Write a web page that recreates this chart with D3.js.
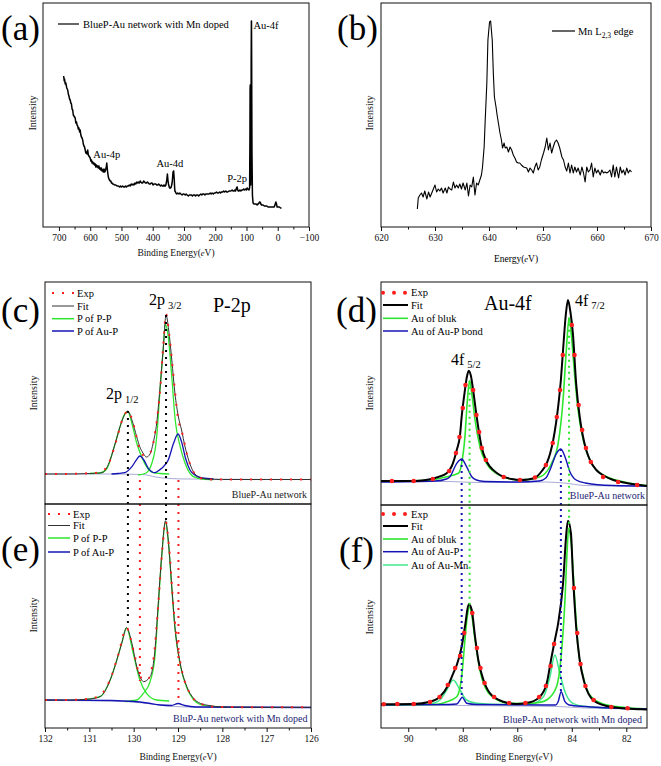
<!DOCTYPE html>
<html><head><meta charset="utf-8">
<script src="https://cdn.jsdelivr.net/npm/d3@7"></script>
<style>body{margin:0;background:#fff}svg{display:block;font-family:"Liberation Serif","Times New Roman",serif}</style>
</head><body>
<svg id="chart" width="661" height="766"></svg>
<script>
// ---------- DATA ----------
// (a) XPS survey: [binding energy eV, intensity a.u.]
const survey = [[685,151],[683,146],[682,148],[680,143],[678,144],[675,139],[672,137],[670,133],[668,131],[666,128],[664,127],[662,124],[660,123],[658,118],[656,117],[654,112],[652,111],[650,110],[648,109],[646,104],[644,105],[642,102],[640,101],[638,98],[636,99],[634,95],[632,97],[630,92],[628,90],[626,89],[624,87],[622,83],[620,81],[618,80],[616,77],[614,74],[612,75],[610,73],[608,77],[606,72],[604,71],[602,70],[600,69],[598,66],[596,67],[594,64],[592,65],[590,63],[588,64],[586,62],[584,63],[582,60],[580,62],[578,60],[576,61],[574,59],[572,61],[570,58],[568,59],[566,57],[564,59],[562,56],[560,57],[558,55],[556,58],[554,55],[552,56],[550,58],[549,59],[547,64],[545,57],[543,52],[542,50],[540,48],[538,47],[536,46],[534,46],[532,44],[530,44],[528,43],[526,43],[522,42],[518,42],[514,41],[510,41],[506,40],[503,41],[500,40],[496,41],[493,40],[490,40],[487,41],[484,40],[481,41],[478,41],[475,42],[472,41],[469,43],[466,42],[463,43],[460,42],[457,44],[454,43],[451,45],[448,44],[445,45],[443,44],[440,46],[438,45],[435,44],[432,44],[429,46],[426,45],[423,44],[420,44],[417,45],[414,44],[411,43],[408,43],[405,44],[402,44],[399,42],[396,43],[393,43],[390,43],[387,42],[384,42],[381,43],[378,42],[375,41],[372,42],[369,41],[366,41],[364,42],[362,41],[360,41],[358,42],[356,45],[355,47],[353,53],[351,46],[349,42],[348,41],[346,39],[345,39],[343,39],[341,40],[340,41],[338,44],[337,47],[335,55],[333,56],[331,47],[330,40],[329,36],[327,35],[326,34],[323,33],[320,34],[316,33],[313,34],[310,33],[306,32],[303,33],[300,33],[296,32],[293,33],[290,32],[286,31],[283,32],[280,32],[276,32],[273,31],[270,32],[266,32],[263,31],[260,32],[256,32],[253,31],[250,32],[246,33],[243,32],[240,33],[236,33],[233,32],[230,33],[226,33],[223,33],[220,33],[216,34],[213,33],[210,34],[206,33],[203,34],[200,34],[196,35],[193,34],[190,34],[186,35],[183,34],[180,35],[176,35],[173,36],[170,35],[166,36],[163,35],[160,35],[156,36],[153,36],[150,36],[146,37],[143,36],[140,36],[137,37],[135,36],[133,38],[132,39],[130,40],[128,37],[126,36],[124,36],[121,37],[118,36],[115,37],[112,37],[109,38],[106,37],[103,38],[100,37],[98,39],[96,38],[94,38],[92,37],[90,39],[89,87],[88.5,137],[88,142],[87.5,127],[86.5,42],[85.5,77],[85,167],[84.3,206],[84,206],[83.5,167],[82.5,77],[81,32],[79,24],[76,23],[74,23],[71,23],[69,23],[66,22],[64,23],[62,23],[60,24],[58,25],[57,25],[55,24],[54,23],[52,22],[50,22],[47,22],[43,21],[39,21],[35,21],[31,20],[27,20],[23,20],[20,20],[17,20],[14,20],[12,20],[10,21],[8,23],[6,25],[5,24],[4,23],[2,20],[-1,20],[-5,20],[-9,19],[-12,19]];

// (b) Mn L2,3 edge: [energy eV, intensity a.u.]
const mnEdge = [[626.73,18],[626.9,29],[627.2,32],[627.5,34],[627.8,30],[628.1,36],[628.5,28],[628.8,35],[629.1,30],[629.4,34],[629.7,38],[630.0,42],[630.3,35],[630.6,38],[630.9,36],[631.2,39],[631.5,34],[631.9,39],[632.2,34],[632.5,40],[632.8,38],[633.1,37],[633.4,45],[633.7,39],[634.0,42],[634.3,39],[634.6,43],[634.9,38],[635.2,44],[635.6,37],[635.9,44],[636.2,31],[636.5,42],[636.8,40],[637.1,50],[637.4,32],[637.7,44],[638.0,42],[638.3,47],[638.6,52],[638.8,60],[639.1,80],[639.3,107],[639.6,144],[639.8,187],[640.1,205],[640.3,206],[640.6,187],[640.8,154],[641.0,130],[641.3,120],[641.5,112],[641.8,102],[642.0,95],[642.3,87],[642.5,79],[642.8,84],[643.0,79],[643.3,80],[643.6,75],[643.9,80],[644.2,77],[644.5,72],[644.8,69],[645.1,65],[645.4,64],[645.7,64],[646.0,62],[646.4,60],[647.0,59],[647.3,55],[647.6,59],[647.9,57],[648.2,54],[648.5,60],[648.8,64],[649.1,57],[649.4,60],[649.7,67],[650.1,74],[650.4,80],[650.7,89],[651.0,77],[651.3,84],[651.6,74],[651.9,80],[652.2,85],[652.5,87],[652.8,84],[653.1,79],[653.5,70],[653.8,67],[654.1,60],[654.4,56],[654.7,64],[655.0,54],[655.3,62],[655.6,54],[655.9,60],[656.2,55],[656.5,59],[656.9,52],[657.2,60],[657.5,54],[657.8,45],[658.1,60],[658.4,55],[658.7,57],[659.0,64],[659.3,50],[659.6,59],[659.9,54],[660.2,57],[660.6,52],[660.9,57],[661.2,54],[661.5,55],[661.8,54],[662.1,55],[662.4,57],[662.7,50],[663.0,62],[663.3,50],[663.6,60],[664.0,49],[664.3,60],[664.6,54],[664.9,57],[665.2,52],[665.5,59],[665.8,54],[666.1,57],[666.4,55]];

// (c) P-2p, BlueP-Au network
const cExp = [[132,30],[131.6,30],[131.2,30.5],[130.9,31],[130.7,33],[130.55,42],[130.4,62],[130.25,85],[130.13,93],[130.0,79],[129.88,57],[129.75,48],[129.62,52],[129.5,76],[129.4,116],[129.33,160],[129.27,190],[129.2,170],[129.1,127],[129.0,86],[128.9,70],[128.8,50],[128.65,32],[128.5,26],[128.2,24.5],[127.8,24.5],[127.4,24.5],[127,24.5],[126.6,24.5],[126.2,24.5],[126,24.5]];
const cFit = [[132,30],[131.5,30],[131.0,30.5],[130.76,31],[130.68,32],[130.61,36],[130.53,44],[130.46,54],[130.38,66],[130.31,77],[130.23,87],[130.13,93],[130.04,84],[129.93,67],[129.86,57],[129.79,51],[129.71,47],[129.63,50],[129.56,61],[129.48,81],[129.41,114],[129.33,157],[129.27,189],[129.21,174],[129.14,144],[129.07,111],[128.99,87],[128.92,74],[128.84,57],[128.76,44],[128.65,32],[128.53,27],[128.35,25],[128,24.5],[127,24.5],[126,24.5]];
const cPP1 = [[131.0,30.5],[130.76,31],[130.61,35],[130.46,54],[130.31,77],[130.2,90],[130.13,92],[130.04,80.7],[129.93,60.7],[129.82,47.3],[129.71,37.3],[129.56,31.3],[129.4,30.5],[129.2,30]];
const cPP2 = [[129.9,29],[129.72,31],[129.59,40.7],[129.48,67.3],[129.41,111],[129.33,157.3],[129.29,180],[129.22,167.3],[129.14,127.3],[129.07,87.3],[128.95,57.3],[128.84,40.7],[128.65,27.3],[128.45,25],[128.2,24.5]];
const cAuP = [[130.5,30],[130.35,30.5],[130.2,31.3],[130.04,37.3],[129.93,44.7],[129.86,48],[129.77,44],[129.67,35.7],[129.52,31.3],[129.45,33],[129.37,35.7],[129.22,44],[129.1,60.7],[129.0,70],[128.92,62.3],[128.83,45.7],[128.73,34],[128.62,29],[128.45,26],[128.2,25]];
const cBg = [[132,30],[130.5,30],[129.8,29.5],[129.5,27],[129.2,25.5],[128.8,25],[126,24.5]];

// (e) P-2p, BlueP-Au network with Mn doped
const eExp = [[132,28],[131.6,28],[131.2,28.5],[130.9,30],[130.7,35],[130.5,52],[130.35,73],[130.16,100],[130.0,77],[129.85,51],[129.7,48],[129.55,70],[129.45,121],[129.35,180],[129.28,207],[129.2,180],[129.1,120],[129.0,80],[128.9,55],[128.75,36],[128.6,27],[128.4,23],[128.1,21],[127.8,21],[127.5,20.7],[127.2,20.7],[126.9,20.7],[126.6,20.7],[126.3,20.7],[126,20.7]];
const eFit = [[132,28],[131.5,28],[131.0,29],[130.76,31.3],[130.53,48],[130.38,68],[130.27,84.7],[130.16,100.3],[130.04,84.7],[129.93,61.3],[129.82,48],[129.78,46.3],[129.63,51.3],[129.52,78],[129.45,121.3],[129.37,171.3],[129.28,207.3],[129.22,188],[129.14,141.3],[129.07,101.3],[128.95,64.7],[128.8,41.3],[128.65,29.7],[128.5,24.7],[128.3,22.5],[128,21],[127,20.7],[126,20.7]];
const ePP1 = [[131.2,28],[130.76,31.3],[130.53,48],[130.38,68],[130.27,84.7],[130.16,100],[130.01,74.7],[129.86,48],[129.71,34.7],[129.48,28],[129.2,27]];
const ePP2 = [[130.2,26.5],[129.93,28],[129.78,34.7],[129.63,46.3],[129.52,71.3],[129.45,118],[129.37,170],[129.28,206],[129.22,187],[129.14,140],[129.07,100],[128.95,63],[128.8,40],[128.65,28.5],[128.5,23.5],[128.2,21.5],[127.9,21]];
const eAuP = [[132,28],[130.5,27.5],[130,26.5],[129.7,25],[129.4,23],[129.15,22.5],[129.0,24.5],[128.85,22.5],[128.6,21],[126,20.5]];
const eBg = [[132,27.5],[130.5,27],[130,26],[129.6,24],[129.2,22],[128.8,21],[126,20.5]];

// (d) Au-4f, BlueP-Au network
const dExp = [[90.6,24],[89.8,24],[89.1,26],[88.5,34],[88.25,52],[88.12,68],[88.0,97],[87.9,120],[87.62,115],[87.5,90],[87.4,73],[87.3,57],[87.15,45],[86.5,28],[85.9,25],[85.35,27.5],[84.95,40],[84.7,62],[84.55,88],[84.43,115],[84.33,150],[84.0,180],[83.9,150],[83.75,100],[83.62,75],[83.48,57],[83.3,43],[82.85,28],[82.3,23],[81.6,20]];
const dFit = [[91,24],[90,24],[89.5,24.5],[89.2,25.7],[88.9,28],[88.59,31.7],[88.4,39],[88.22,55],[88.1,70],[88.04,88.3],[87.92,115],[87.85,128],[87.78,134.3],[87.7,129],[87.62,115],[87.49,88.3],[87.31,58.3],[87.15,45],[87.0,38.3],[86.75,32],[86.51,28.3],[86.2,26],[85.9,25],[85.6,25.5],[85.29,28.3],[85.1,34],[84.92,41.7],[84.8,51],[84.68,65],[84.5,98.3],[84.4,125],[84.32,155],[84.22,190],[84.14,205],[84.05,193],[83.96,171.7],[83.84,121.7],[83.71,88.3],[83.6,70],[83.47,55],[83.3,43],[83.1,35],[82.8,29],[82.48,25],[82.0,22],[81.5,20],[81.24,19]];
const dBulk = [[91,23.5],[89.2,25],[88.59,28.3],[88.16,31.7],[88.04,41.7],[87.92,68.3],[87.83,105],[87.75,124.3],[87.67,111.7],[87.55,85],[87.37,58.3],[87.13,41.7],[86.77,31.7],[86.4,27],[86.0,25],[85.6,25.5],[85.3,27],[85.04,30],[84.74,41.7],[84.5,61.7],[84.32,105],[84.2,155],[84.1,187.3],[84.01,168.3],[83.89,128.3],[83.77,95],[83.58,65],[83.34,45],[83.1,35],[82.85,30],[82.12,23.3],[81.24,19.5]];
const dAuP = [[91,23],[89,24],[88.6,26],[88.47,28.3],[88.22,41.7],[88.04,46],[87.86,38.3],[87.67,28.3],[87.5,25],[87.2,23.5],[86,23],[85.2,24],[84.95,27],[84.8,35],[84.56,51.7],[84.4,56],[84.25,48.3],[84.07,33.3],[83.84,25],[83.5,22],[82.5,19.5],[81.24,19]];
const dBg = [[91,23.5],[88.5,23.5],[87.5,22.5],[86,22.5],[85,23],[84.3,22],[83.5,19.5],[82,19],[81.24,19]];

// (f) Au-4f, BlueP-Au network with Mn doped
const fExp = [[90.9,23.7],[90.4,24],[89.8,24],[89.2,26],[88.85,31],[88.55,43],[88.28,60],[88.1,72],[87.95,95],[87.65,115],[87.48,80],[87.35,60],[87.2,45],[86.85,31],[86.3,25],[85.7,25],[85.2,31],[84.95,42],[84.78,62],[84.65,84],[83.92,140],[83.8,95],[83.68,64],[83.5,42],[83.2,28],[82.55,21],[81.95,19.7]];
const fFit = [[91,23.7],[89.81,24],[89.2,26.3],[88.84,31.3],[88.53,43],[88.35,54.7],[88.22,63],[88.04,81.3],[87.92,101.3],[87.78,124],[87.67,118],[87.55,91.3],[87.43,68],[87.24,48],[87.0,34.7],[86.51,26.3],[86.02,24],[85.53,25.7],[85.17,31.3],[84.92,44.7],[84.74,71.3],[84.62,88],[84.5,104.7],[84.32,144.7],[84.2,194.7],[84.14,207.3],[84.03,194.7],[83.96,154.7],[83.84,101.3],[83.71,68],[83.53,44.7],[83.22,28],[82.73,22],[82.12,19.7],[81.45,18.7],[81.24,18.5]];
const fBulk = [[91,23],[89,23.5],[88.59,26.3],[88.22,31.3],[88.04,51.3],[87.92,88],[87.84,110],[87.75,121.3],[87.67,113],[87.55,88],[87.37,58],[87.13,38],[86.77,28.7],[86.26,24.7],[85.6,24.5],[85.2,25.5],[84.92,28],[84.56,41.3],[84.38,74.7],[84.25,128],[84.17,178],[84.12,198],[84.01,181.3],[83.89,128],[83.77,81.3],[83.58,51.3],[83.34,33],[82.85,24],[82.12,20.7],[81.24,19]];
const fAuMn = [[91,23],[89.2,24],[88.84,28],[88.59,38],[88.35,48],[88.1,38],[87.86,28],[87.49,24.7],[86.5,23.5],[85.5,24],[85.04,31.3],[84.8,51.3],[84.62,73],[84.44,54.7],[84.25,36.3],[83.96,24.7],[83.5,21.5],[82.5,20],[81.24,19]];
const fAuP = [[91,23],[88.5,23.5],[88.22,24],[88.1,28],[88.02,30.7],[87.94,28],[87.86,24.7],[87.5,23.5],[85,23],[84.6,23],[84.5,26.3],[84.39,36.3],[84.25,26.3],[84.1,23],[83.5,21.5],[81.24,19]];
const fBg = [[91,23],[88,22.5],[86,22],[84.5,21.5],[83.5,20],[81.24,19]];

// guide lines linking upper and lower panels: energy, value in upper panel, value in lower panel
const ceGuideE = [130.13, 129.27, 129.86, 128.99];
const ceGuideTop = [93, 189, 24, 24];
const ceGuideBot = [100.3, 207.3, 47, 25];
const dfGuideE = [88.04, 87.75, 84.4, 84.1];
const dfGuideTop = [46, 124.3, 56, 187.3];
const dfGuideBot = [30.7, 121.3, 36.3, 198];

// ticks
const ticksA = [700,600,500,400,300,200,100,0,-100];
const minorA = [650,550,450,350,250,150,50,-50];
const ticksB = [620,630,640,650,660,670];
const minorB = [625,635,645,655,665];
const ticksE = [132,131,130,129,128,127,126];
const minorE = [131.5,130.5,129.5,128.5,127.5,126.5];
const ticksF = [90,88,86,84,82];
const minorF = [89,87,85,83];

// ---------- DRAWING ----------
const svg = d3.select('#chart');
const RED = '#ff1e1e', GREEN = '#2ee62e', BLUE = '#1414b4', MINT = '#40e88c', BG = '#aaaad6', NAVY = '#1c2474';
const defs = svg.append('defs');
const layerCurves = svg.append('g');
const layerGuides = svg.append('g');
const layerTop = svg.append('g');

function makePanel(name, left, right, top, bottom, xDomain, yDomain) {
  const x = d3.scaleLinear().domain(xDomain).range([left, right]);
  const y = d3.scaleLinear().domain(yDomain).range([bottom, top]);
  defs.append('clipPath').attr('id', 'clip-' + name).append('rect')
    .attr('x', left).attr('y', top).attr('width', right - left).attr('height', bottom - top);
  const plot = layerCurves.append('g').attr('clip-path', `url(#clip-${name})`);
  layerTop.append('rect').attr('x', left).attr('y', top).attr('width', right - left).attr('height', bottom - top)
    .attr('fill', 'none').attr('stroke', '#111').attr('stroke-width', 1);
  return {x, y, plot, left, right, top, bottom};
}

function drawLine(P, data, color, width, dash, curve) {
  P.plot.append('path').datum(data)
    .attr('d', d3.line().x(d => P.x(d[0])).y(d => P.y(d[1])).curve(curve || d3.curveMonotoneX))
    .attr('fill', 'none').attr('stroke', color).attr('stroke-width', width)
    .attr('stroke-dasharray', dash || null).attr('stroke-linejoin', 'round');
}
function drawDots(P, data, color, r) {
  P.plot.selectAll(null).data(data).enter().append('circle')
    .attr('cx', d => P.x(d[0])).attr('cy', d => P.y(d[1])).attr('r', r).attr('fill', color);
}
function xAxis(P, major, minor, fmt) {
  const gM = layerTop.append('g').attr('transform', `translate(0,${P.bottom})`)
    .call(d3.axisBottom(P.x).tickValues(major).tickSize(4).tickPadding(3).tickFormat(fmt || (d => d)));
  gM.select('.domain').remove();
  gM.selectAll('text').attr('font-size', 9.5).attr('font-family', '"Liberation Serif",serif').attr('fill', '#111');
  gM.selectAll('line').attr('stroke', '#111');
  const gm = layerTop.append('g').attr('transform', `translate(0,${P.bottom})`)
    .call(d3.axisBottom(P.x).tickValues(minor).tickSize(2.5).tickFormat(''));
  gm.select('.domain').remove();
  gm.selectAll('line').attr('stroke', '#111');
}
function xTitle(cx, y, main) {
  const t = layerTop.append('text').attr('x', cx).attr('y', y).attr('text-anchor', 'middle')
    .attr('font-size', 9.5).attr('fill', '#111');
  t.append('tspan').text(main + '(');
  t.append('tspan').attr('font-style', 'italic').attr('font-size', 8.5).text('e');
  t.append('tspan').text('V)');
}
function yTitle(x, y) {
  layerTop.append('text').attr('transform', `translate(${x},${y}) rotate(-90)`).attr('text-anchor', 'middle')
    .attr('dominant-baseline', 'central').attr('font-size', 10).attr('fill', '#111').text('Intensity');
}
function panelLetter(x, y, s) {
  layerTop.append('text').attr('x', x).attr('y', y).attr('font-size', 35).attr('fill', '#000').text(s);
}
function text(x, y, s, size, anchor, color) {
  return layerTop.append('text').attr('x', x).attr('y', y).attr('font-size', size)
    .attr('text-anchor', anchor || 'start').attr('fill', color || '#000').text(s);
}
function legendItem(x1, x2, tx, y, label, color, width, dash, cap) {
  layerTop.append('line').attr('x1', x1).attr('x2', x2).attr('y1', y).attr('y2', y)
    .attr('stroke', color).attr('stroke-width', width).attr('stroke-dasharray', dash || null)
    .attr('stroke-linecap', cap || 'butt');
  text(tx, y + 3.5, label, 10.5);
}
function subLabel(x, y, main, sub, size, subSize, dy) {
  const t = layerTop.append('text').attr('x', x).attr('y', y).attr('font-size', size).attr('fill', '#000');
  t.append('tspan').text(main);
  t.append('tspan').attr('font-size', subSize).attr('dx', 3).attr('dy', dy).text(sub);
}

// Panel (a)
const A = makePanel('a', 43, 309, 3, 227, [751, -100], [0, 224]);
drawLine(A, survey, '#000', 1.5, null, d3.curveLinear);
xAxis(A, ticksA, minorA, d => d < 0 ? '−' + (-d) : d);
xTitle(176, 256, 'Binding Energy');
yTitle(32, 113);
panelLetter(1, 40, '(a)');
legendItem(58, 79, 83, 24, 'BlueP-Au network with Mn doped', '#000', 1.2);
text(A.x(84) + 2, 29, 'Au-4f', 10.5);
text(A.x(547), 158, 'Au-4p', 10.5, 'middle');
text(A.x(345), 167, 'Au-4d', 10.5, 'middle');
text(A.x(130), 182, 'P-2p', 10.5, 'middle');

// Panel (b)
const B = makePanel('b', 381, 651, 3, 227, [620, 670], [0, 224]);
drawLine(B, mnEdge, '#000', 1.1, null, d3.curveLinear);
xAxis(B, ticksB, minorB);
layerTop.append('text').attr('x', 516).attr('y', 262).attr('text-anchor', 'middle').attr('font-size', 9.5)
  .call(t => { t.append('tspan').text('Energy('); t.append('tspan').attr('font-style', 'italic').attr('font-size', 8.5).text('e'); t.append('tspan').text('V)'); });
yTitle(369, 113);
panelLetter(337, 40, '(b)');
layerTop.append('line').attr('x1', 552).attr('x2', 575).attr('y1', 31).attr('y2', 31).attr('stroke', '#000').attr('stroke-width', 1.2);
layerTop.append('text').attr('x', 578).attr('y', 34.5).attr('font-size', 10.5)
  .call(t => { t.append('tspan').text('Mn L'); t.append('tspan').attr('font-size', 7.5).attr('dy', 3).text('2,3'); t.append('tspan').attr('dy', -3).text(' edge'); });

// Panel (c)
const C = makePanel('c', 45, 311, 282, 504, [132, 126], [0, 222]);
drawLine(C, cBg, BG, 1);
drawLine(C, cPP1, GREEN, 1.3);
drawLine(C, cPP2, GREEN, 1.3);
drawLine(C, cAuP, BLUE, 1.3);
drawLine(C, cFit, '#333', 1);
drawLine(C, cExp, RED, 2, '2,8');
yTitle(33, 393);
panelLetter(1, 322, '(c)');
legendItem(52, 74, 77, 293, 'Exp', RED, 2, '2,8');
legendItem(52, 74, 77, 306, 'Fit', '#333', 1);
legendItem(52, 74, 77, 318.7, 'P of P-P', GREEN, 1.5);
legendItem(52, 74, 77, 331, 'P of Au-P', BLUE, 1.5);
text(213, 312, 'P-2p', 20);
subLabel(149, 305, '2p', '3/2', 16, 10.5, 4);
subLabel(106, 399, '2p', '1/2', 16, 10.5, 4);
text(307, 498, 'BlueP-Au network', 10, 'end', '#222');

// Panel (e)
const E = makePanel('e', 45, 311, 504, 728, [132, 126], [0, 224]);
drawLine(E, eBg, BG, 1);
drawLine(E, ePP1, GREEN, 1.3);
drawLine(E, ePP2, GREEN, 1.3);
drawLine(E, eAuP, BLUE, 1.3);
drawLine(E, eFit, '#333', 1);
drawLine(E, eExp, RED, 2, '2,8');
xAxis(E, ticksE, minorE);
xTitle(178, 760, 'Binding Energy');
yTitle(33, 615);
panelLetter(1, 561, '(e)');
legendItem(48, 70, 73, 514, 'Exp', RED, 2, '2,8');
legendItem(48, 70, 73, 525.5, 'Fit', '#333', 1);
legendItem(48, 70, 73, 538, 'P of P-P', GREEN, 1.5);
legendItem(48, 70, 73, 552, 'P of Au-P', BLUE, 1.5);
text(307.5, 722, 'BluP-Au network with Mn doped', 10, 'end', NAVY);

// Panel (d)
const D = makePanel('d', 381, 647, 282, 505, [91, 81.24], [0, 223]);
drawLine(D, dBg, BG, 1);
drawLine(D, dBulk, GREEN, 1.6);
drawLine(D, dAuP, BLUE, 1.4);
drawLine(D, dFit, '#000', 2);
drawDots(D, dExp, RED, 2.3);
yTitle(369, 393);
panelLetter(336, 322, '(d)');
legendItem(383, 408, 411, 292.7, 'Exp', RED, 4, '0,11', 'round');
legendItem(383, 408, 411, 305, 'Fit', '#000', 2);
legendItem(383, 408, 411, 318.3, 'Au of bluk', GREEN, 1.6);
legendItem(383, 408, 411, 331, 'Au of Au-P bond', BLUE, 1.5);
text(484, 310, 'Au-4f', 20);
subLabel(575, 306, '4f', '7/2', 16, 10.5, 3);
subLabel(451, 365, '4f', '5/2', 16, 10.5, 3);
text(645, 499, 'BlueP-Au network', 10, 'end', NAVY);

// Panel (f)
const F = makePanel('f', 381, 647, 505, 728, [91, 81.24], [0, 223]);
drawLine(F, fBg, BG, 1);
drawLine(F, fAuMn, MINT, 1.5);
drawLine(F, fBulk, GREEN, 1.6);
drawLine(F, fAuP, BLUE, 1.4);
drawLine(F, fFit, '#000', 2);
drawDots(F, fExp, RED, 2.3);
xAxis(F, ticksF, minorF);
xTitle(514, 760, 'Binding Energy');
yTitle(369, 617);
panelLetter(339, 562, '(f)');
legendItem(383, 408, 411, 514, 'Exp', RED, 4, '0,11', 'round');
legendItem(383, 408, 411, 526, 'Fit', '#000', 2);
legendItem(383, 408, 411, 539, 'Au of bluk', GREEN, 1.6);
legendItem(383, 408, 411, 551.7, 'Au of Au-P', BLUE, 1.5);
legendItem(383, 408, 411, 565, 'Au of Au-Mn', MINT, 1.5);
text(642, 722.5, 'BlueP-Au network with Mn doped', 10, 'end', NAVY);

// guide lines spanning upper and lower panels
const ceColors = ['#000', '#000', RED, RED];
ceGuideE.forEach((e, i) => {
  layerGuides.append('line').attr('x1', C.x(e)).attr('x2', C.x(e))
    .attr('y1', C.y(ceGuideTop[i])).attr('y2', E.y(ceGuideBot[i]))
    .attr('stroke', ceColors[i]).attr('stroke-width', 2).attr('stroke-dasharray', i < 2 ? '2,5' : '2,6');
});
const dfColors = [BLUE, GREEN, BLUE, GREEN];
dfGuideE.forEach((e, i) => {
  layerGuides.append('line').attr('x1', D.x(e)).attr('x2', D.x(e))
    .attr('y1', D.y(dfGuideTop[i])).attr('y2', F.y(dfGuideBot[i]))
    .attr('stroke', dfColors[i]).attr('stroke-width', 2).attr('stroke-dasharray', '2,4');
});
</script>
</body></html>
